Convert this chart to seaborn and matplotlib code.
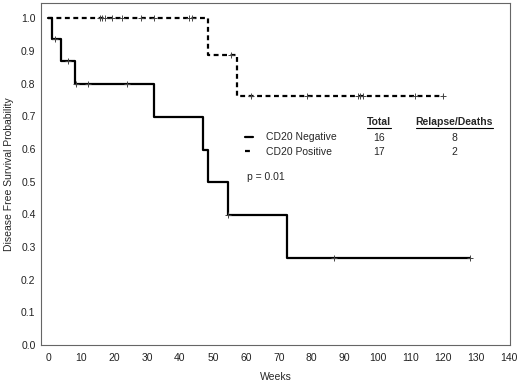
import matplotlib
matplotlib.use("Agg")
import matplotlib.pyplot as plt
from matplotlib.lines import Line2D
import numpy as np
import pandas as pd
import seaborn as sns

# Kaplan-Meier steps (weeks, survival)
neg_times = [0, 1, 4, 8, 32, 47, 48.4, 54.5, 72.4, 128]
neg_surv = [1.0, 0.9375, 0.870, 0.798, 0.698, 0.598, 0.499, 0.399, 0.266, 0.266]
neg_censor = [2, 6, 8.3, 12, 24, 54.5, 86.7, 128]

pos_times = [0, 48.4, 57.4, 120]
pos_surv = [1.0, 0.889, 0.762, 0.762]
pos_censor = [15.6, 16.4, 17.2, 19.3, 22.3, 28.3, 32.1, 42.8, 43.6,
              55.6, 61.5, 78.5, 94.1, 94.8, 95.5, 111.4, 119.8]

groups = ["CD20 Negative", "CD20 Positive"]
totals = [16, 17]
events = [8, 2]
p_text = "p = 0.01"

x_ticks = list(range(0, 141, 10))
y_ticks = [i / 10 for i in range(11)]

sns.set_theme(style="white")
plt.rcParams["font.family"] = ["Liberation Sans", "DejaVu Sans"]
FS = 7.5
DASH = (0, (2.2, 1.6))


def step_frame(times, surv):
    return pd.DataFrame({"weeks": times, "surv": surv})


def censor_y(times, surv, cens):
    idx = np.searchsorted(times, cens, side="right") - 1
    return np.asarray(surv)[idx]


fig = plt.figure(figsize=(5.2, 3.81), dpi=100)
ax = fig.add_axes([0.079, 0.0945, 0.902, 0.897])

neg = step_frame(neg_times, neg_surv)
pos = step_frame(pos_times, pos_surv)
sns.lineplot(data=neg, x="weeks", y="surv", ax=ax, color="black", lw=1.6,
             drawstyle="steps-post", estimator=None, sort=False)
sns.lineplot(data=pos, x="weeks", y="surv", ax=ax, color="black", lw=1.6,
             drawstyle="steps-post", estimator=None, sort=False, linestyle=DASH)

ax.plot(neg_censor, censor_y(neg_times, neg_surv, neg_censor), ls="none",
        marker="+", ms=5, mew=0.7, color="#444444")
ax.plot(pos_censor, censor_y(pos_times, pos_surv, pos_censor), ls="none",
        marker="+", ms=5, mew=0.7, color="#444444")

ax.set_xlim(-2.2, 140.3)
ax.set_ylim(0, 1.046)
ax.set_xticks(x_ticks)
ax.set_yticks(y_ticks)
ax.set_yticklabels([f"{v:.1f}" for v in y_ticks])
ax.tick_params(axis="both", direction="in", length=2, width=0.6, labelsize=FS,
               colors="#222222", pad=4)
ax.tick_params(axis="x", pad=6)
ax.set_xlabel("Weeks", fontsize=FS, labelpad=6)
ax.set_ylabel("Disease Free Survival Probability", fontsize=FS, labelpad=5)
for s in ax.spines.values():
    s.set_visible(True)
    s.set_color("#666666")
    s.set_linewidth(0.8)

# legend + small table of counts
handles = [Line2D([], [], color="black", lw=1.6),
           Line2D([], [], color="black", lw=1.6, linestyle=DASH)]
ax.legend(handles, groups, loc="center left", bbox_to_anchor=(0.435, 0.587),
          frameon=False, fontsize=FS, handlelength=0.75, handletextpad=1.3,
          labelspacing=0.42, borderaxespad=0, borderpad=0)

tr = ax.transAxes
row_y = [0.607, 0.565]
heads = [ax.text(0.721, 0.652, "Total", fontsize=FS, fontweight="bold",
                 ha="center", va="center", transform=tr),
         ax.text(0.881, 0.652, "Relapse/Deaths", fontsize=FS, fontweight="bold",
                 ha="center", va="center", transform=tr)]
for y, n, e in zip(row_y, totals, events):
    ax.text(0.721, y, str(n), fontsize=FS, ha="center", va="center", transform=tr)
    ax.text(0.881, y, str(e), fontsize=FS, ha="center", va="center", transform=tr)
ax.text(0.438, 0.492, p_text, fontsize=FS, ha="left", va="center", transform=tr)

# underline the column headings
fig.canvas.draw()
inv = fig.transFigure.inverted()
for t in heads:
    bb = t.get_window_extent().transformed(inv)
    fig.add_artist(Line2D([bb.x0, bb.x1], [bb.y0 - 0.003, bb.y0 - 0.003],
                          color="black", lw=0.8, transform=fig.transFigure))

fig.savefig("out.png", dpi=100)
